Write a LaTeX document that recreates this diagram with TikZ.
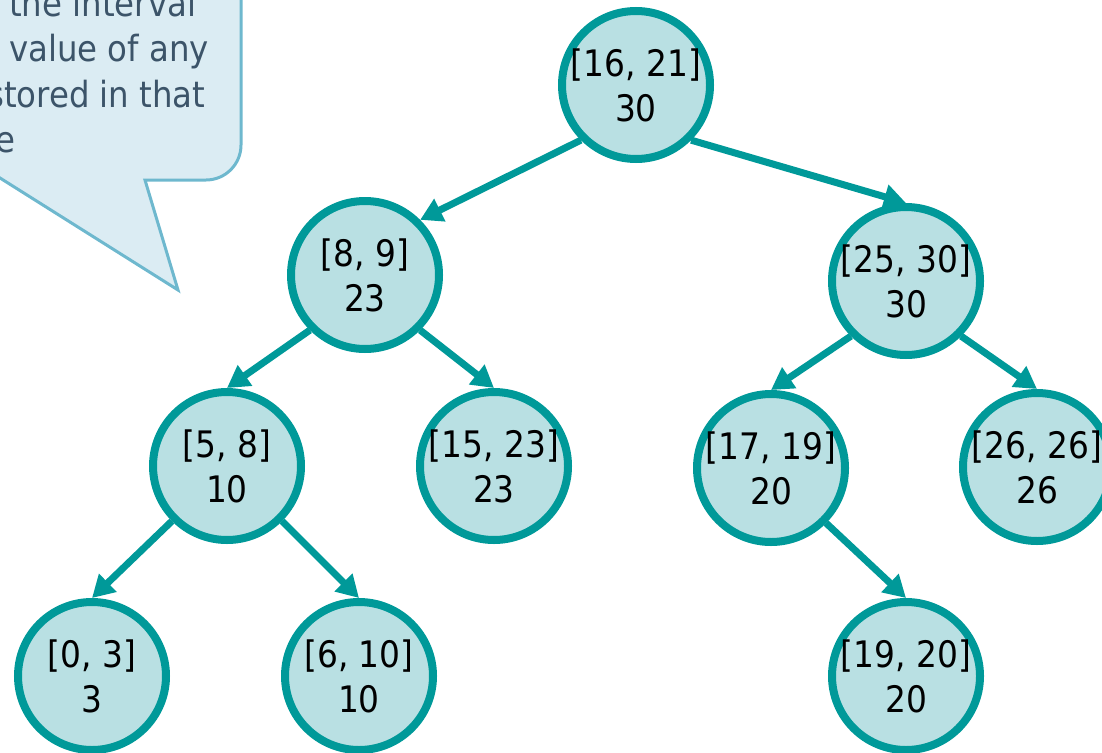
\documentclass[tikz,border=0pt]{standalone}
\usepackage{fontspec}
\newfontfamily\djc{DejaVu Sans Condensed}
\usetikzlibrary{arrows.meta}
\definecolor{teal1}{RGB}{0,153,153}
\definecolor{nodefill}{RGB}{185,224,227}
\definecolor{callfill}{RGB}{219,236,243}
\definecolor{callline}{RGB}{110,184,206}
\definecolor{calltext}{RGB}{60,84,105}
\begin{document}
\begin{tikzpicture}[x=1pt,y=-1pt,
  tnode/.style={circle, draw=teal1, fill=nodefill, line width=8pt, minimum size=148pt,
    inner sep=-14pt, align=center, font=\djc\fontsize{36.5}{45}\selectfont},
  conn/.style={draw=teal1, line width=7pt, -{Triangle[length=22pt,width=24pt]}},
  calltxt/.style={anchor=base west, inner sep=0pt, text=calltext,
    font=\djc\fontsize{36}{45}\selectfont}]
\useasboundingbox (0,0) rectangle (1102,752);
\clip (0,0) rectangle (1102,752);
% callout
\draw[fill=callfill, draw=callline, line width=3pt, line join=miter]
  (-60,-60) -- (241,-60) -- (241,145) arc[start angle=0,end angle=-90,radius=35pt]
  -- (145,180) -- (178,290) -- (0,178) -- (-60,140) -- cycle;
\node[calltxt] (t1) at (9,17) {the interval};
\node[calltxt] (t2) at (9,62) {value of any};
\node[calltxt] (t3) at (-13,107) {stored in that};
\node[calltxt] (t4) at (-5,152) {e};
% tree nodes
\node[tnode] (r) at (636,85) {[16, 21]\\30};
\node[tnode] (a) at (365,275) {[8, 9]\\23};
\node[tnode] (b) at (906,281) {[25, 30]\\30};
\node[tnode] (c) at (227,466) {[5, 8]\\10};
\node[tnode] (d) at (494,466) {[15, 23]\\23};
\node[tnode] (e) at (771,468) {[17, 19]\\20};
\node[tnode] (f) at (1037,467) {[26, 26]\\26};
\node[tnode] (g) at (92,676) {[0, 3]\\3};
\node[tnode] (h) at (359,676) {[6, 10]\\10};
\node[tnode] (i) at (906,676) {[19, 20]\\20};
% connectors
\draw[conn] (r.south west) -- (a.north east);
\draw[conn] (r.south east) -- (b.north);
\draw[conn] (a.south west) -- (c.north);
\draw[conn] (a.south east) -- (d.north);
\draw[conn] (b.south west) -- (e.north);
\draw[conn] (b.south east) -- (f.north);
\draw[conn] (c.south west) -- (g.north);
\draw[conn] (c.south east) -- (h.north);
\draw[conn] (e.south east) -- (i.north);
\end{tikzpicture}
\end{document}
